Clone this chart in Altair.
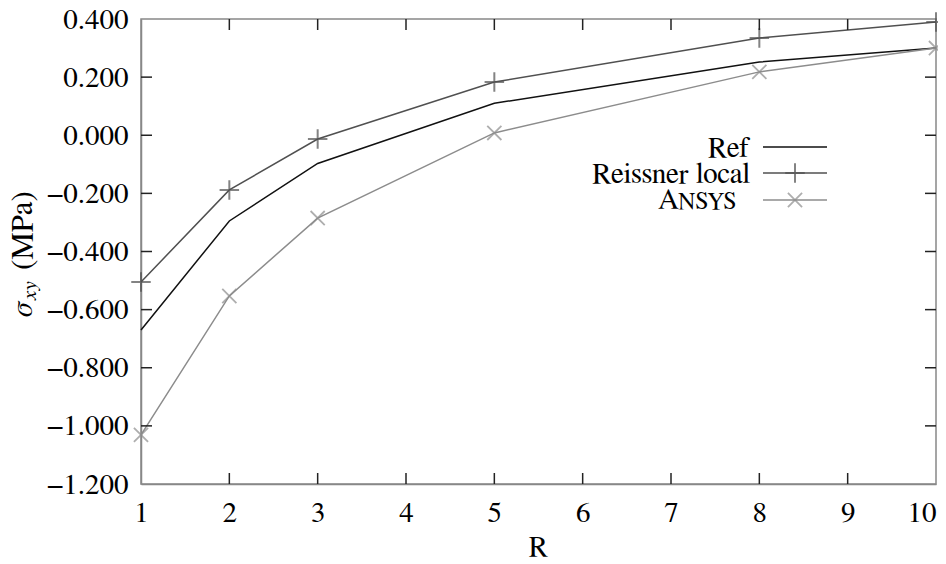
import altair as alt
import pandas as pd

# ---- data ----
R = [1, 2, 3, 5, 8, 10]
ref_vals = [-0.670, -0.295, -0.097, 0.110, 0.252, 0.300]
reissner_vals = [-0.505, -0.188, -0.013, 0.183, 0.335, 0.390]
ansys_vals = [-1.031, -0.553, -0.285, 0.008, 0.218, 0.300]

x_ticks = [1, 2, 3, 4, 5, 6, 7, 8, 9, 10]
y_ticks = [-1.2, -1.0, -0.8, -0.6, -0.4, -0.2, 0.0, 0.2, 0.4]
inner_x_ticks = [2, 3, 4, 5, 6, 7, 8, 9]
inner_y_ticks = [-1.0, -0.8, -0.6, -0.4, -0.2, 0.0, 0.2]

series_names = ["Ref", "Reissner local", "ANSYS"]
series_colors = ["#111111", "#505050", "#8c8c8c"]

W, H = 795, 465
FONT = "Nimbus Roman, FreeSerif, DejaVu Serif, serif"
FS = 29

rows = []
for name, vals in zip(series_names, [ref_vals, reissner_vals, ansys_vals]):
    for r, v in zip(R, vals):
        rows.append({"R": r, "v": v, "series": name})
df = pd.DataFrame(rows)

xs = alt.Scale(domain=[1, 10], nice=False, zero=False)
ys = alt.Scale(domain=[-1.2, 0.4], nice=False, zero=False)
cs = alt.Scale(domain=series_names, range=series_colors)

X_AXIS = alt.Axis(
    values=x_ticks, title=None, ticks=False, grid=False, format="d",
    labelFont=FONT, labelFontSize=FS, labelColor="black",
    labelPadding=14, domainColor="#888888", domainWidth=1.5,
    labelBaseline="top", labelFlush=False,
    labelAlign=alt.expr("datum.value == 10 ? 'right' : 'center'"))
Y_AXIS = alt.Axis(
    values=y_ticks, title=None, ticks=False, grid=False, format=".3f",
    labelFont=FONT, labelFontSize=FS, labelColor="black",
    labelPadding=13, domainColor="#888888", domainWidth=1.5,
    labelFlush=False)

PLUS = "M-1,0L1,0M0,-1L0,1"
XSHAPE = "M-1,-1L1,1M-1,1L1,-1"

lines = alt.Chart(df).mark_line(strokeWidth=1.5).encode(
    x=alt.X("R:Q", scale=xs, axis=X_AXIS),
    y=alt.Y("v:Q", scale=ys, axis=Y_AXIS),
    color=alt.Color("series:N", scale=cs, legend=None),
    detail="series:N",
)

pts_reissner = alt.Chart(df[df.series == "Reissner local"]).mark_point(
    shape=PLUS, size=380, strokeWidth=2, filled=False, color="#505050"
).encode(x=alt.X("R:Q", scale=xs, axis=X_AXIS), y=alt.Y("v:Q", scale=ys, axis=Y_AXIS))

pts_ansys = alt.Chart(df[df.series == "ANSYS"]).mark_point(
    shape=XSHAPE, size=200, strokeWidth=1.8, filled=False, color="#8c8c8c"
).encode(x=alt.X("R:Q", scale=xs, axis=X_AXIS), y=alt.Y("v:Q", scale=ys, axis=Y_AXIS))

# inward mirrored ticks
tx = pd.DataFrame({"R": inner_x_ticks})
ty = pd.DataFrame({"v": inner_y_ticks})
TL = 11
TC = "#222222"
bottom_ticks = alt.Chart(tx).mark_rule(color=TC, strokeWidth=1.5).encode(
    x=alt.X("R:Q", scale=xs, axis=X_AXIS), y=alt.value(H), y2=alt.value(H - TL))
top_ticks = alt.Chart(tx).mark_rule(color=TC, strokeWidth=1.5).encode(
    x=alt.X("R:Q", scale=xs, axis=X_AXIS), y=alt.value(0), y2=alt.value(TL))
left_ticks = alt.Chart(ty).mark_rule(color=TC, strokeWidth=1.5).encode(
    y=alt.Y("v:Q", scale=ys, axis=Y_AXIS), x=alt.value(0), x2=alt.value(TL))
right_ticks = alt.Chart(ty).mark_rule(color=TC, strokeWidth=1.5).encode(
    y=alt.Y("v:Q", scale=ys, axis=Y_AXIS), x=alt.value(W), x2=alt.value(W - TL))

one = pd.DataFrame({"a": [0]})

def txt(s, x, y, size=FS, align="left", italic=False, angle=0, font=FONT):
    kw = dict(text=s, font=font, fontSize=size, align=align,
              baseline="alphabetic", color="black")
    if italic:
        kw["fontStyle"] = "italic"
    if angle:
        kw["angle"] = angle
    return alt.Chart(one).mark_text(**kw).encode(x=alt.value(x), y=alt.value(y))

# axis titles
x_title = txt("R", W / 2, 537, align="center")
y_t1 = txt("σ", -109, 298, size=30, italic=True, angle=270)
y_t2 = txt("xy", -105, 281, size=21, italic=True, angle=270)
y_t3 = txt("(MPa)", -109, 251, size=31, angle=270)

# legend
def seg(y, color):
    return alt.Chart(one).mark_rule(color=color, strokeWidth=1.5).encode(
        x=alt.value(622), x2=alt.value(686), y=alt.value(y))

leg = [
    txt("Ref", 609, 138, align="right"),
    seg(128, series_colors[0]),
    txt("Reissner local", 609, 164, align="right"),
    seg(154, series_colors[1]),
    alt.Chart(one).mark_point(shape=PLUS, size=380, strokeWidth=2, filled=False,
                              color="#505050").encode(x=alt.value(654), y=alt.value(154)),
    txt("A", 517, 190),
    txt("NSYS", 537, 190, size=24),
    seg(181, series_colors[2]),
    alt.Chart(one).mark_point(shape=XSHAPE, size=200, strokeWidth=1.8, filled=False,
                              color="#8c8c8c").encode(x=alt.value(654), y=alt.value(181)),
]

chart = alt.layer(
    lines, pts_reissner, pts_ansys,
    bottom_ticks, top_ticks, left_ticks, right_ticks,
    x_title, y_t1, y_t2, y_t3, *leg
).properties(
    width=W, height=H,
    autosize=alt.AutoSizeParams(type="none"),
    padding={"left": 133, "top": 11, "right": 2, "bottom": 80},
).configure_view(stroke="#888888", strokeWidth=1.5)

chart.save("out.html", embed_options={"renderer": "svg", "actions": False})
